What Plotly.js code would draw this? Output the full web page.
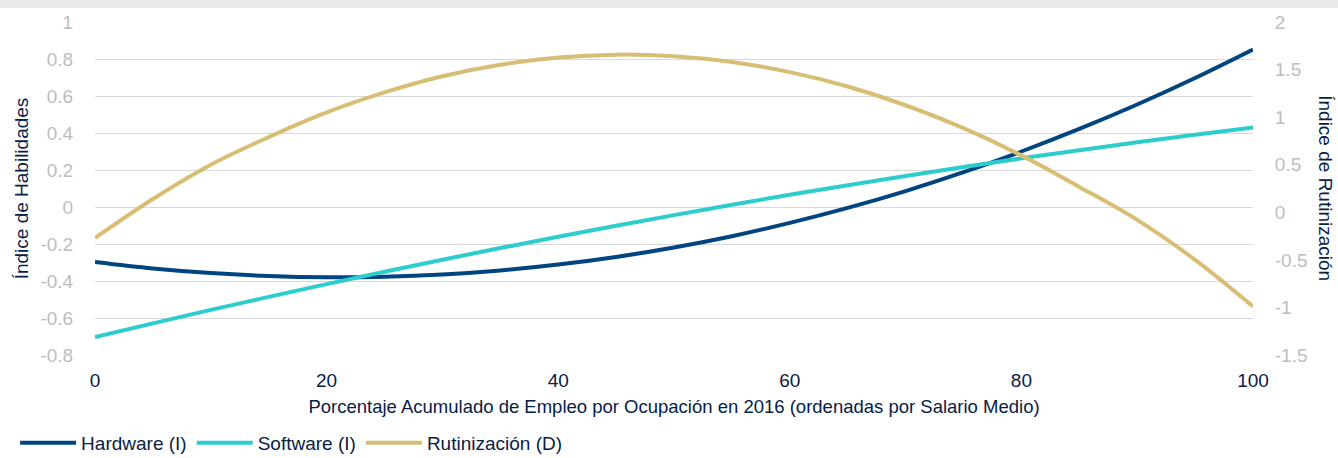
<!DOCTYPE html>
<html>
<head>
<meta charset="utf-8">
<script src="https://cdn.plot.ly/plotly-3.0.1.min.js"></script>
<style>
  html, body { margin: 0; padding: 0; background: #fff; }
  #chart { width: 1338px; height: 458px; }
</style>
</head>
<body>
<div id="chart"></div>
<script>
// Porcentaje acumulado de empleo (eje X)
const pct = [0, 5, 10, 15, 20, 25, 30, 35, 40, 45, 50, 55, 60, 65, 70, 75, 80, 85, 90, 95, 100];

// Hardware (I) - eje izquierdo
const hardware = [-0.297, -0.332, -0.357, -0.373, -0.380, -0.377, -0.365, -0.343, -0.311, -0.270,
                  -0.219, -0.158, -0.086, -0.005, 0.086, 0.188, 0.300, 0.422, 0.554, 0.697, 0.851];

// Software (I) - eje izquierdo
const software = [-0.703, -0.629, -0.556, -0.486, -0.417, -0.350, -0.285, -0.222, -0.161, -0.101,
                  -0.044, 0.012, 0.066, 0.118, 0.168, 0.216, 0.263, 0.307, 0.350, 0.391, 0.430];

// Rutinización (D) - eje derecho
const rutinizacion = [-0.27, 0.14, 0.50, 0.79, 1.05, 1.26, 1.43, 1.551, 1.627, 1.657,
                      1.641, 1.580, 1.473, 1.322, 1.125, 0.884, 0.598, 0.267, -0.08, -0.50, -0.99];

const xTicks = [0, 20, 40, 60, 80, 100];
const yLeftTicks = [-0.8, -0.6, -0.4, -0.2, 0, 0.2, 0.4, 0.6, 0.8, 1];
const yRightTicks = [-1.5, -1, -0.5, 0, 0.5, 1, 1.5, 2];

const NAVY = '#072146';
const GREY = '#bdbdbd';
const FONT = 'Liberation Sans, Arial, sans-serif';
const FS = 19;

const traces = [
  { x: pct, y: hardware, name: 'Hardware (I)', type: 'scatter', mode: 'lines',
    line: { color: '#004481', width: 4, shape: 'spline' }, yaxis: 'y' },
  { x: pct, y: software, name: 'Software (I)', type: 'scatter', mode: 'lines',
    line: { color: '#2DCCCD', width: 4, shape: 'spline' }, yaxis: 'y' },
  { x: pct, y: rutinizacion, name: 'Rutinización (D)', type: 'scatter', mode: 'lines',
    line: { color: '#D8BE75', width: 4, shape: 'spline' }, yaxis: 'y2' }
];

const layout = {
  width: 1338, height: 458,
  margin: { l: 95, r: 85, t: 22, b: 103, autoexpand: false },
  paper_bgcolor: '#ffffff', plot_bgcolor: '#ffffff',
  font: { family: FONT, size: FS, color: NAVY },
  showlegend: true,
  legend: {
    orientation: 'h', x: -0.069, xanchor: 'left', y: -0.207, yanchor: 'top',
    font: { family: FONT, size: FS, color: NAVY }, itemwidth: 56, tracegroupgap: 0,
    bgcolor: 'rgba(0,0,0,0)'
  },
  xaxis: {
    range: [0, 100], tickvals: xTicks, ticktext: xTicks.map(String),
    showgrid: false, zeroline: false, showline: false,
    ticks: 'outside', ticklen: 8, tickcolor: 'rgba(0,0,0,0)',
    tickfont: { family: FONT, size: FS, color: NAVY },
    title: { text: 'Porcentaje Acumulado de Empleo por Ocupación en 2016 (ordenadas por Salario Medio)',
             font: { family: FONT, size: 18.5, color: NAVY }, standoff: 10 },
    automargin: false
  },
  yaxis: {
    range: [-0.8, 1], tickvals: yLeftTicks, ticktext: yLeftTicks.map(String),
    showgrid: true, gridcolor: '#d9d9d9', gridwidth: 1, zeroline: false, showline: false,
    ticks: 'outside', ticklen: 17, tickcolor: 'rgba(0,0,0,0)',
    tickfont: { family: FONT, size: FS, color: GREY },
    title: { text: 'Índice de Habilidades', font: { family: FONT, size: FS, color: NAVY }, standoff: 6 },
    automargin: false
  },
  yaxis2: {
    range: [-1.5, 2], tickvals: yRightTicks, ticktext: yRightTicks.map(String),
    overlaying: 'y', side: 'right',
    showgrid: false, zeroline: false, showline: false,
    ticks: 'outside', ticklen: 17, tickcolor: 'rgba(0,0,0,0)',
    tickfont: { family: FONT, size: FS, color: GREY },
    automargin: false
  },
  annotations: [
    { text: 'Índice de Rutinización', xref: 'paper', yref: 'paper', x: 1.0624, y: 0.5,
      xanchor: 'center', yanchor: 'middle', textangle: 90, showarrow: false,
      font: { family: FONT, size: FS, color: NAVY } }
  ],
  shapes: [
    { type: 'rect', xref: 'paper', yref: 'paper', x0: -0.09, x1: 1.08, y0: 1.043, y1: 1.08,
      fillcolor: '#e8e8e8', line: { width: 0 }, layer: 'below' }
  ]
};

Plotly.newPlot('chart', traces, layout, { displayModeBar: false, staticPlot: true });
</script>
</body>
</html>
